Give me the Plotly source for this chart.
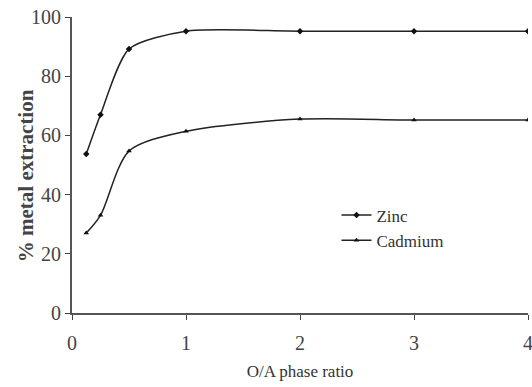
import plotly.graph_objects as go

ratio = [0.125, 0.25, 0.5, 1, 2, 3, 4]
zinc = [53.7, 67.0, 89.2, 95.2, 95.2, 95.2, 95.2]
cadmium = [27.0, 33.0, 54.7, 61.4, 65.5, 65.2, 65.2]
x_ticks = [0, 1, 2, 3, 4]
y_ticks = [0, 20, 40, 60, 80, 100]

fig = go.Figure()
fig.add_trace(go.Scatter(x=ratio, y=zinc, name="Zinc", mode="lines+markers",
                         line=dict(color="#222", width=1.5, shape="spline", smoothing=0.7),
                         marker=dict(symbol="diamond", size=5, color="#111")))
fig.add_trace(go.Scatter(x=ratio, y=cadmium, name="Cadmium", mode="lines+markers",
                         line=dict(color="#222", width=1.5, shape="spline", smoothing=0.8),
                         marker=dict(symbol="triangle-up", size=5, color="#111")))

font = "Liberation Serif, Times New Roman, serif"
fig.update_layout(
    width=532, height=387,
    margin=dict(l=72, r=4, t=17, b=74),
    paper_bgcolor="white", plot_bgcolor="white",
    font=dict(family=font, size=19, color="#444"),
    showlegend=True,
    legend=dict(x=0.58, y=0.39, xanchor="left", yanchor="top",
                bgcolor="rgba(0,0,0,0)", font=dict(size=17, color="#333"),
                itemwidth=30),
    xaxis=dict(range=[0, 4], tickvals=x_ticks, ticks="outside", ticklen=5,
               showline=True, linecolor="#555", linewidth=2, showgrid=False, zeroline=False,
               title=dict(text="O/A phase ratio", font=dict(size=17, color="#333"), standoff=12),
               tickfont=dict(size=20), ticklabelstandoff=6, ticklabeloverflow="allow",
               automargin=False),
    yaxis=dict(range=[0, 100], tickvals=y_ticks, ticks="outside", ticklen=5,
               showline=True, linecolor="#555", linewidth=2, showgrid=False, zeroline=False,
               tickfont=dict(size=20), ticklabeloverflow="allow", automargin=False),
    annotations=[dict(text="<b>% metal extraction</b>", xref="paper", yref="paper",
                      x=-0.099, y=0.465, xanchor="center", yanchor="middle",
                      textangle=-90, showarrow=False,
                      font=dict(size=21, color="#444", family=font))],
)
fig.write_html("out.html")
